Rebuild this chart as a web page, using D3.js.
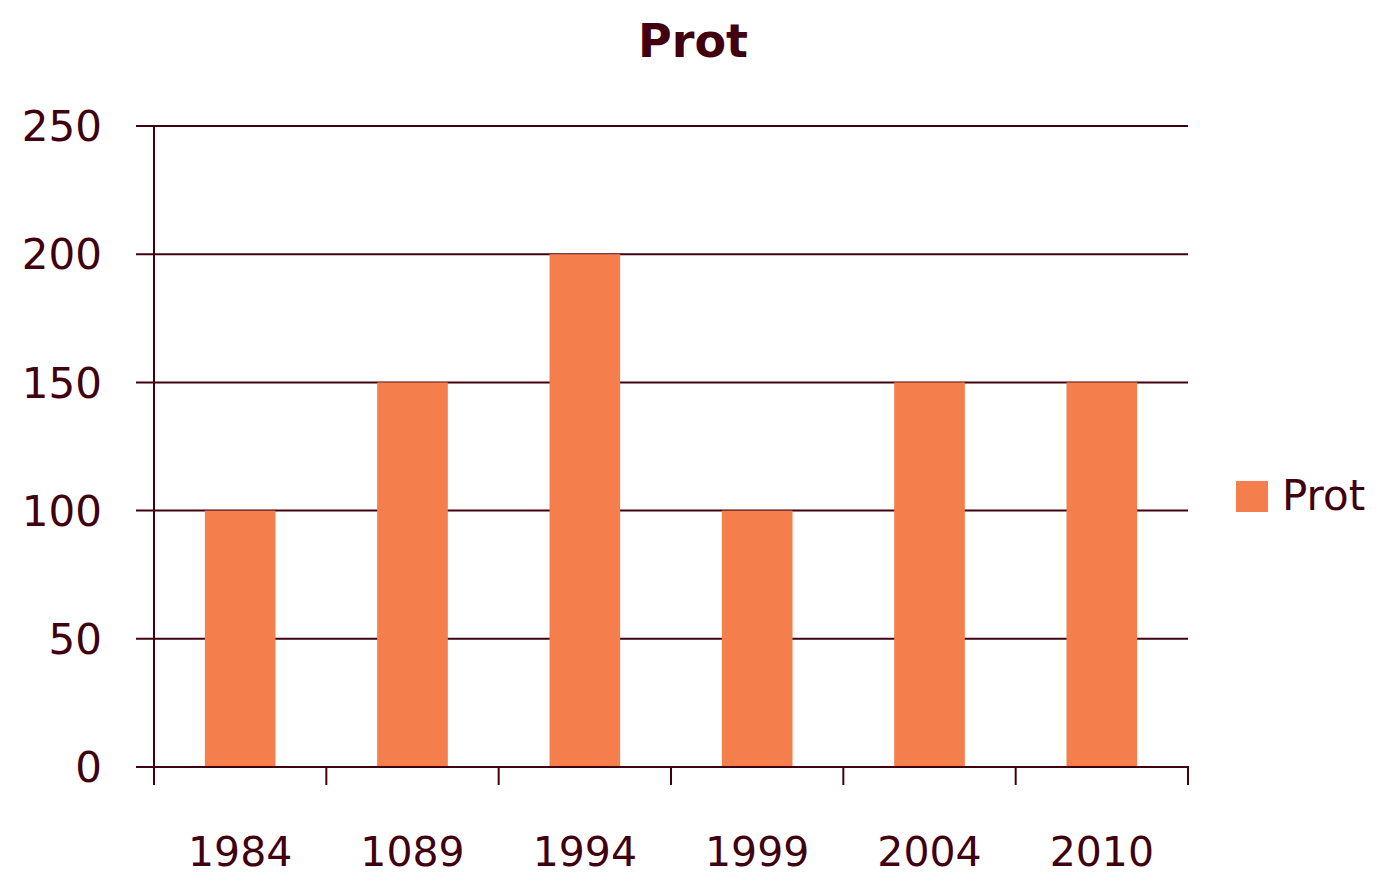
<!DOCTYPE html>
<html>
<head>
<meta charset="utf-8">
<script src="https://cdn.jsdelivr.net/npm/d3@7"></script>
<style>
  body { margin: 0; background: #fff; }
  text { font-family: "DejaVu Sans", sans-serif; fill: #40000f; }
</style>
</head>
<body>
<div id="chart"></div>
<script>
const years = ['1984', '1089', '1994', '1999', '2004', '2010'];
const prot = [100, 150, 200, 100, 150, 150];
const yTicks = [0, 50, 100, 150, 200, 250];

const width = 1382;
const height = 876;
const ink = '#40000f';
const barColor = '#f47f4c';

const svg = d3
  .select('#chart')
  .append('svg')
  .attr('width', width)
  .attr('height', height);

const x = d3
  .scaleBand()
  .domain(years)
  .range([154, 1188])
  .paddingInner(0.59)
  .paddingOuter(0.295);

const y = d3.scaleLinear().domain([0, 250]).range([767, 126]);

// gridlines
svg
  .append('g')
  .selectAll('line')
  .data(yTicks)
  .join('line')
  .attr('x1', 136)
  .attr('x2', 1188)
  .attr('y1', (d) => y(d))
  .attr('y2', (d) => y(d))
  .attr('stroke', ink)
  .attr('stroke-width', 2);

// bars
svg
  .append('g')
  .selectAll('rect')
  .data(prot)
  .join('rect')
  .attr('x', (d, i) => x(years[i]))
  .attr('width', x.bandwidth())
  .attr('y', (d) => y(d))
  .attr('height', (d) => y(0) - y(d))
  .attr('fill', barColor);

// y axis line
svg
  .append('line')
  .attr('x1', 154)
  .attr('x2', 154)
  .attr('y1', y(250))
  .attr('y2', 785)
  .attr('stroke', ink)
  .attr('stroke-width', 2);

// x axis line (over the bars)
svg
  .append('line')
  .attr('x1', 136)
  .attr('x2', 1189)
  .attr('y1', y(0))
  .attr('y2', y(0))
  .attr('stroke', ink)
  .attr('stroke-width', 2);

// category boundary ticks
const bounds = d3.range(1, years.length + 1).map((i) => 154 + i * (1034 / years.length));
svg
  .append('g')
  .selectAll('line')
  .data(bounds)
  .join('line')
  .attr('x1', (d) => d)
  .attr('x2', (d) => d)
  .attr('y1', y(0))
  .attr('y2', 785)
  .attr('stroke', ink)
  .attr('stroke-width', 2);

// y labels
svg
  .append('g')
  .selectAll('text')
  .data(yTicks)
  .join('text')
  .attr('x', 102)
  .attr('y', (d) => y(d))
  .attr('dy', '0.36em')
  .attr('text-anchor', 'end')
  .attr('font-size', 42)
  .text((d) => d);

// x labels
svg
  .append('g')
  .selectAll('text')
  .data(years)
  .join('text')
  .attr('x', (d) => x(d) + x.bandwidth() / 2)
  .attr('y', 866)
  .attr('text-anchor', 'middle')
  .attr('font-size', 41)
  .text((d) => d);

// title
svg
  .append('text')
  .attr('x', 693)
  .attr('y', 57)
  .attr('text-anchor', 'middle')
  .attr('font-size', 46)
  .attr('font-weight', 'bold')
  .text('Prot');

// legend
svg
  .append('rect')
  .attr('x', 1236)
  .attr('y', 481)
  .attr('width', 32)
  .attr('height', 31)
  .attr('fill', barColor);
svg
  .append('text')
  .attr('x', 1282)
  .attr('y', 510)
  .attr('font-size', 42)
  .text('Prot');
</script>
</body>
</html>
